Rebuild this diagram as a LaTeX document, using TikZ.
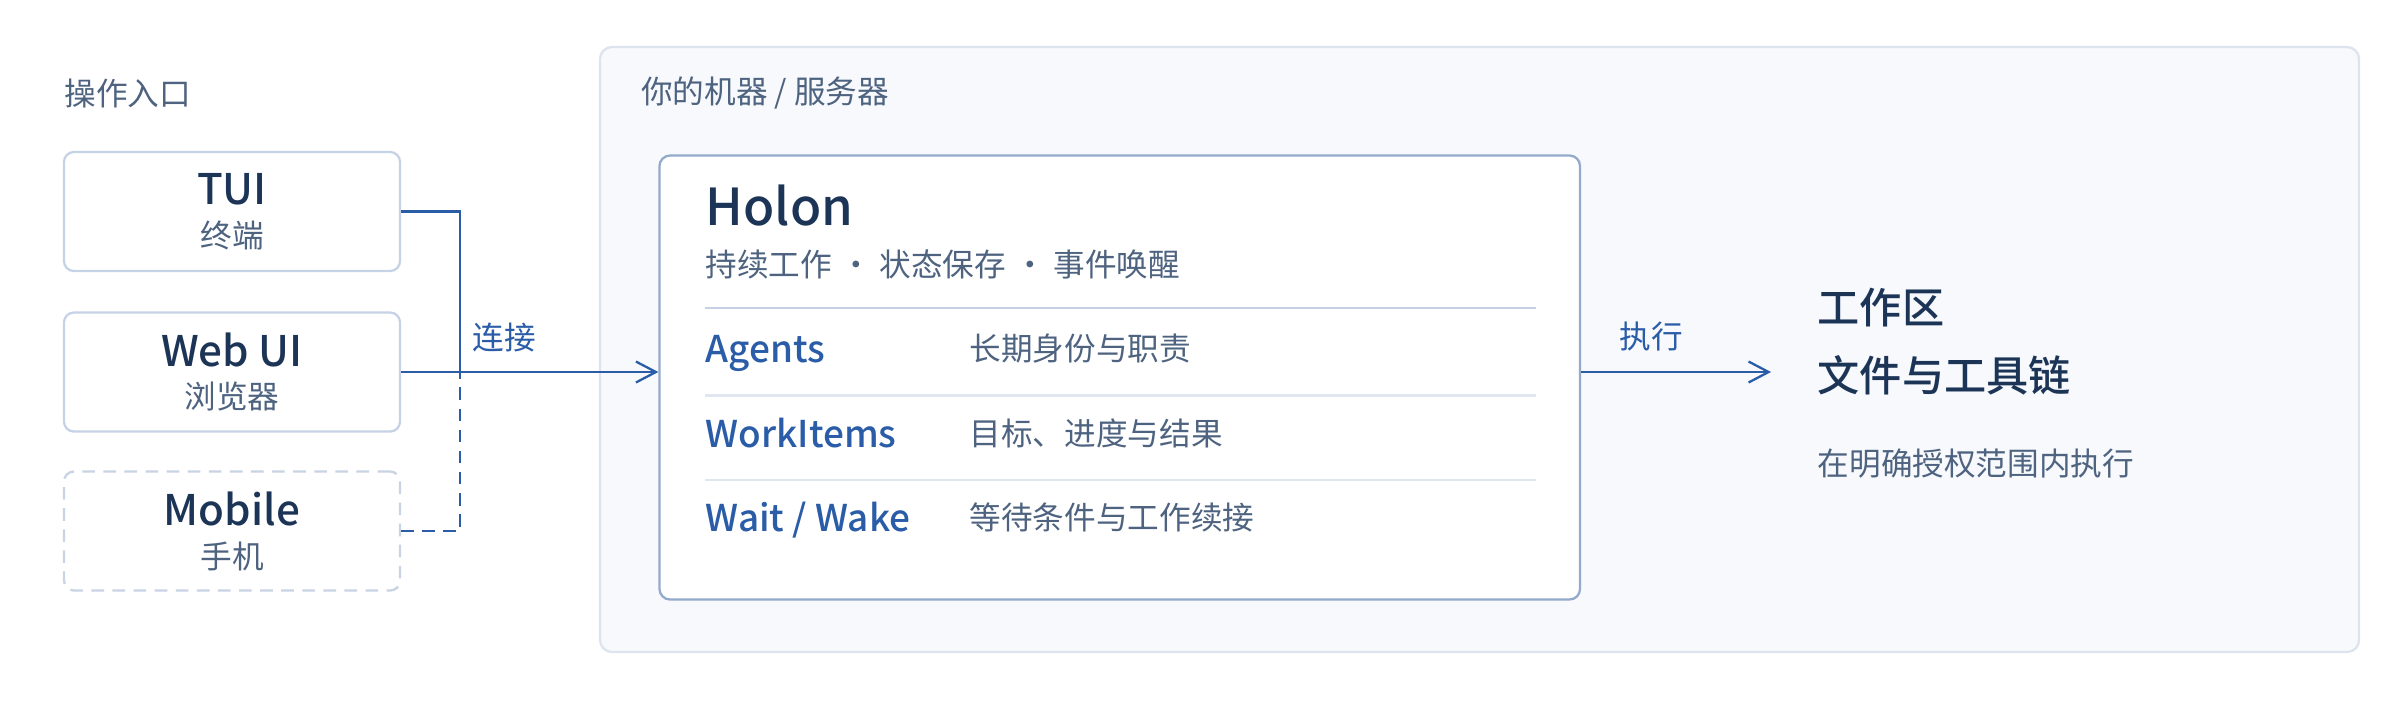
\documentclass[tikz,border=0pt]{standalone}
\usepackage{fontspec}
\setmainfont{Noto Sans CJK SC}[BoldFont={Noto Sans CJK SC Medium}]
\usepackage{xcolor}
\usetikzlibrary{arrows.meta}
\definecolor{navy}{HTML}{1C3557}
\definecolor{slate}{HTML}{4E6380}
\definecolor{link}{HTML}{2A5CA8}
\definecolor{entryline}{HTML}{C6D3E6}
\definecolor{mobileline}{HTML}{C8D3E4}
\definecolor{holonline}{HTML}{94AACA}
\definecolor{hostfill}{HTML}{F7F9FC}
\definecolor{hostline}{HTML}{DDE4EE}
\definecolor{rulestrong}{HTML}{C5D2E4}
\definecolor{ruleweak}{HTML}{E1E7F0}
\newcommand{\entrytext}[2]{{\fontsize{12pt}{12.2pt}\selectfont\bfseries\color{navy}#1}\\#2}

\begin{document}
\begin{tikzpicture}[
	entry/.style={draw=entryline, line width=0.65pt, fill=white, rounded corners=2.8pt, minimum width=3.36cm, minimum height=1.19cm, align=center, font=\fontsize{9pt}{12.2pt}\selectfont, text=slate},
	heading/.style={anchor=west, inner sep=0pt, font=\fontsize{9pt}{11pt}\selectfont, text=slate},
	rowkey/.style={anchor=west, inner sep=0pt, text depth=0pt, font=\fontsize{10.5pt}{12pt}\selectfont\bfseries, text=link},
	rowval/.style={anchor=west, inner sep=0pt, font=\fontsize{9pt}{11pt}\selectfont, text=slate},
	flowlabel/.style={inner sep=0pt, font=\fontsize{9pt}{11pt}\selectfont, text=link},
	flow/.style={draw=link, line width=0.65pt},
	arrowed/.style={-{Straight Barb[length=2mm,width=2.1mm]}},
	wsline/.style={anchor=west, inner sep=0pt, font=\fontsize{12pt}{14pt}\selectfont\bfseries, text=navy}
	]
	\useasboundingbox (0,0) rectangle (24,7);
	
	% machine / server frame
	\node (host) [draw=hostline, fill=hostfill, line width=0.65pt, rounded corners=3.4pt, minimum width=17.59cm, minimum height=6.05cm, inner sep=0pt] at (14.795,3.505) {};
	\node (hostlabel) [heading] at (6.405,6.07) {你的机器 / 服务器};
	\node (entrylabel) [heading] at (0.64,6.07) {操作入口};
	
	% entry points
	\node (tui) [entry] at (2.32,4.885) {\entrytext{TUI}{终端}};
	\node (web) [entry] at (2.32,3.28) {\entrytext{Web UI}{浏览器}};
	\node (mobile) [entry, draw=mobileline, dash pattern=on 3.6pt off 2.4pt] at (2.32,1.69) {\entrytext{Mobile}{手机}};
	
	\node (holon) [draw=holonline, fill=white, line width=0.65pt, rounded corners=3pt, minimum width=9.205cm, minimum height=4.44cm, inner sep=0pt] at (11.1975,3.225) {};
	
	\coordinate (hub) at (4.60,3.28);
	\draw[flow] (tui.east) -| (hub);
	\draw[flow, dash pattern=on 3.6pt off 2.4pt] (mobile.east) -| (hub);
	\draw[flow, arrowed] (web.east) -- (web.east -| holon.west);
	\node (connect) [flowlabel] at (5.04,3.63) {连接};
	
	% holon card
	\node (title) [anchor=west, inner sep=0pt, text depth=0pt, font=\fontsize{14.5pt}{16pt}\selectfont\bfseries, text=navy] at (7.05,4.95) {Holon};
	\node (tagline) [rowval] at (7.05,4.355) {持续工作\hspace{0.25em}·\hspace{0.25em}状态保存\hspace{0.25em}·\hspace{0.25em}事件唤醒};
	\coordinate (rulel) at (7.05,3.92);
	\coordinate (ruler) at (15.36,3.92);
	\draw[rulestrong, line width=0.65pt] (rulel) -- (ruler);
	\foreach \y/\key/\val [count=\i] in {3.51/Agents/长期身份与职责, 2.67/WorkItems/目标、进度与结果, 1.83/{Wait / Wake}/等待条件与工作续接}{
		\node (key\i) [rowkey] at (7.05,\y) {\key};
		\node (val\i) [rowval] at (9.69,\y) {\val};
	}
	\draw[ruleweak, line width=0.65pt] (7.05,3.045) -- (15.36,3.045);
	\draw[ruleweak, line width=0.65pt] (7.05,2.20) -- (15.36,2.20);
	
	% workspace
	\coordinate (wsin) at (17.71,3.28);
	\draw[flow, arrowed] (web.east -| holon.east) -- (wsin);
	\node (exec) [flowlabel] at (16.515,3.64) {执行};
	\node (ws1) [wsline] at (18.17,3.92) {工作区};
	\node (ws2) [wsline] at (18.17,3.25) {文件与工具链};
	\node (wsnote) [rowval] at (18.17,2.36) {在明确授权范围内执行};
\end{tikzpicture}
\end{document}
